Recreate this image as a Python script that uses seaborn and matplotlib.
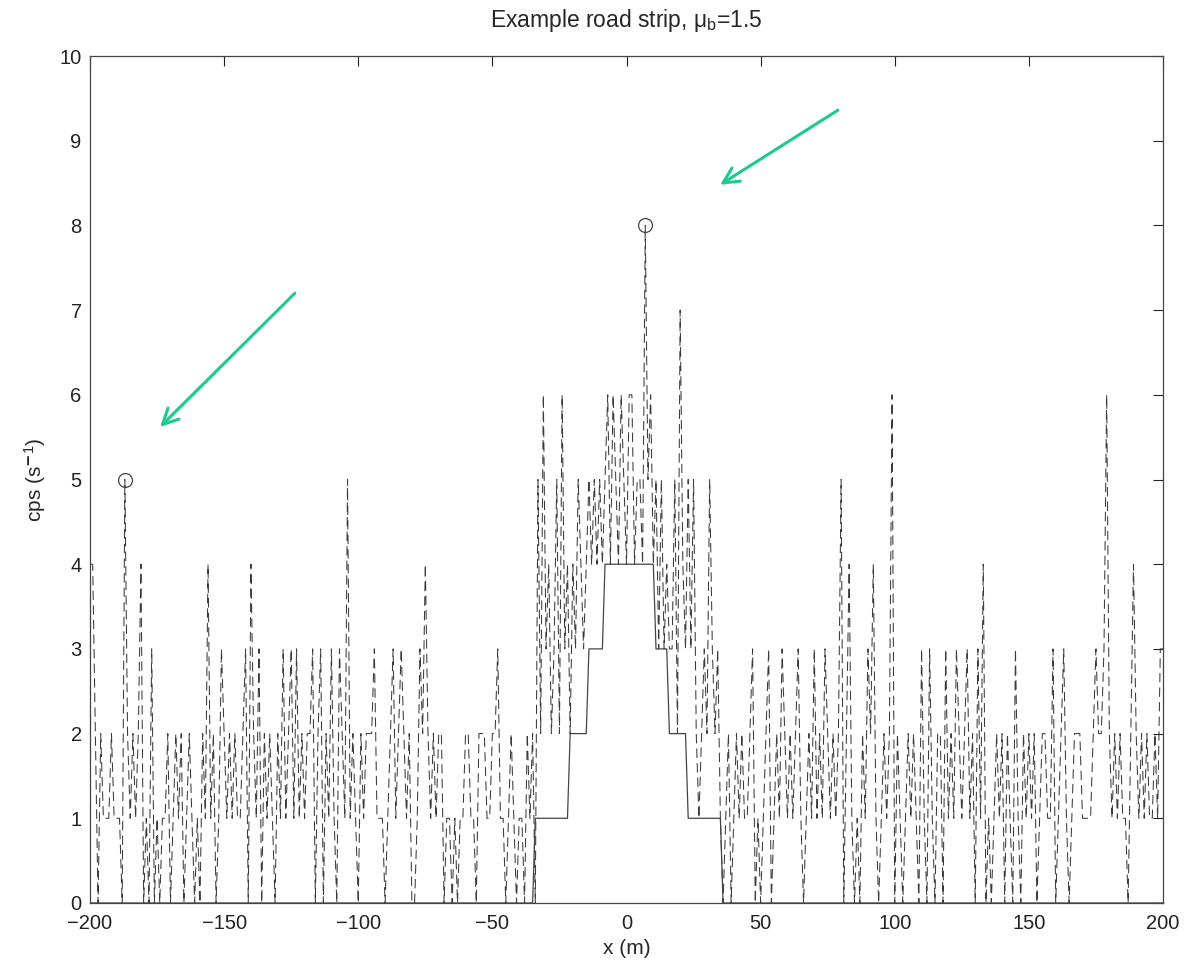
import matplotlib
matplotlib.use("Agg")
import matplotlib.pyplot as plt
import seaborn as sns
import numpy as np

# position along the road, 1 m bins
x_pos = np.arange(-200, 201)

counts_a = [4, 4, 2, 0, 2, 1, 1, 1, 2, 1, 1, 1, 0, 5, 2, 1, 2, 1, 2, 4,
            0, 1, 0, 3, 0, 1, 0, 1, 1, 2, 0, 1, 2, 1, 2, 0, 1, 2, 1, 0,
            1, 0, 2, 1, 4, 1, 2, 0, 1, 3, 2, 1, 2, 1, 2, 1, 1, 2, 3, 0,
            4, 2, 1, 3, 0, 2, 1, 2, 1, 0, 2, 1, 3, 1, 2]          # -200..-126
counts_b = [3, 1, 3, 1, 2, 1, 2, 2, 3, 0, 2, 3, 0, 2, 1, 3, 1, 0, 3, 2,
            1, 5, 1, 2, 1, 0, 2, 1, 2, 2, 2, 3, 1, 1, 1, 0, 1, 2, 3, 1,
            2, 3, 2, 1, 2, 0, 0, 1, 3, 2, 4, 2, 1, 2, 1, 2, 2, 0, 1, 1,
            0, 1, 0, 1, 1, 2, 2, 1, 1, 0, 2]                      # -125..-55
counts_c = [2, 2, 1, 1, 2, 2, 3, 1, 1, 0, 1, 2, 1, 0, 1, 1, 0, 2, 1, 2,
            0, 5, 2, 6, 3, 4, 2, 3, 5, 2, 6, 3, 4, 2, 4, 3, 5, 4, 3, 4,
            5, 4, 5, 4, 5, 4, 5, 6, 4, 6, 5, 4, 6, 5, 4, 6, 6, 4, 5, 5,
            4, 8, 5, 6, 4, 5, 3, 5, 3, 4, 3]                      # -54..16
counts_d = [3, 5, 2, 7, 4, 3, 5, 3, 5, 2, 1, 2, 3, 2, 5, 3, 2, 3, 1, 0,
            1, 2, 0, 1, 2, 1, 2, 1, 1, 2, 3, 0, 1, 0, 1, 2, 3, 0, 1, 2,
            1, 3, 2, 1, 2, 1, 2, 3, 1, 0, 1, 2, 1, 3, 1, 2, 1, 3, 2, 1,
            2, 1, 2, 5, 0, 2, 4, 1, 0]                            # 17..85
counts_e = [1, 0, 2, 1, 3, 2, 4, 1, 0, 1, 2, 1, 2, 6, 0, 2, 1, 0, 1, 2,
            1, 2, 1, 0, 3, 1, 0, 3, 1, 0, 2, 2, 0, 3, 1, 2, 1, 3, 2, 1,
            2, 3, 1, 2, 0, 3, 1, 4, 0, 1, 0, 1, 2, 1, 2, 0, 2, 1, 0, 3,
            1, 0, 2, 1, 2, 1, 2, 0, 1, 2, 2]                      # 86..156
counts_f = [1, 1, 3, 0, 1, 2, 3, 1, 0, 1, 2, 2, 2, 1, 1, 1, 1, 2, 3, 2,
            2, 3, 6, 2, 1, 2, 1, 2, 1, 1, 0, 2, 4, 2, 1, 2, 1, 2, 1, 1,
            2, 1, 3, 3]                                           # 157..200
counts = np.array(counts_a + counts_b + counts_c + counts_d + counts_e + counts_f)

# stepped source level (solid line): level and the x range it covers
level_vals = [1, 2, 3, 4, 3, 2, 1]
level_start = [-34, -21, -14, -8, 11, 16, 23]
level_end = [-22, -15, -9, 10, 15, 22, 35]

# flagged peaks
peak_x = [-187, 7]

# arrows (tail -> head) in data coords
arrow_tail = [(-123.6, 7.2), (78.8, 9.36)]
arrow_head = [(-173.9, 5.62), (34.9, 8.48)]

source = np.zeros_like(x_pos)
for v, a, b in zip(level_vals, level_start, level_end):
    source[(x_pos >= a) & (x_pos <= b)] = v

sns.set_style("white")
plt.rcParams["font.family"] = ["Liberation Sans", "DejaVu Sans"]
plt.rcParams["mathtext.fontset"] = "custom"
plt.rcParams["mathtext.rm"] = "Liberation Sans"
plt.rcParams["mathtext.it"] = "Liberation Sans:italic"

fig = plt.figure(figsize=(11.86, 9.67), dpi=100)
ax = fig.add_axes([90 / 1186, 1 - 903 / 967, 1073 / 1186, 847 / 967])

sns.lineplot(x=x_pos, y=counts, ax=ax, color="#3a3a3a", lw=0.75,
             linestyle=(0, (9, 5)), estimator=None)
sns.lineplot(x=x_pos, y=source, ax=ax, color="#444444", lw=0.9, estimator=None)

peak_idx = [int(np.where(x_pos == p)[0][0]) for p in peak_x]
ax.plot(x_pos[peak_idx], counts[peak_idx], "o", mfc="none", mec="#444444",
        ms=10, mew=0.9)

for t, h in zip(arrow_tail, arrow_head):
    ax.annotate("", xy=h, xytext=t,
                arrowprops=dict(arrowstyle="->", color="#1DC98F", lw=2.2,
                                mutation_scale=28, shrinkA=0, shrinkB=0))

ax.set_xlim(-200, 200)
ax.set_ylim(0, 10)
ax.set_xticks(np.arange(-200, 201, 50))
ax.set_yticks(np.arange(0, 11, 1))
ax.set_xticklabels(["\u2212200", "\u2212150", "\u2212100", "\u221250", "0",
                    "50", "100", "150", "200"])
ax.tick_params(direction="in", length=7, width=0.8, top=True, right=True,
               labelsize=14.5, colors="#222222", pad=6)
ax.tick_params(axis="x", pad=8)
for s in ax.spines.values():
    s.set_color("#444444")
    s.set_linewidth(0.9)

ax.set_xlabel("x (m)", fontsize=15, labelpad=4)
ax.set_ylabel("cps (s$^{\\mathbf{-}1}$)", fontsize=15, labelpad=8)
ax.set_title("Example road strip, \u03bc$_\\mathrm{b}$=1.5", fontsize=16.5, pad=21)

fig.savefig("out.png", dpi=100)
